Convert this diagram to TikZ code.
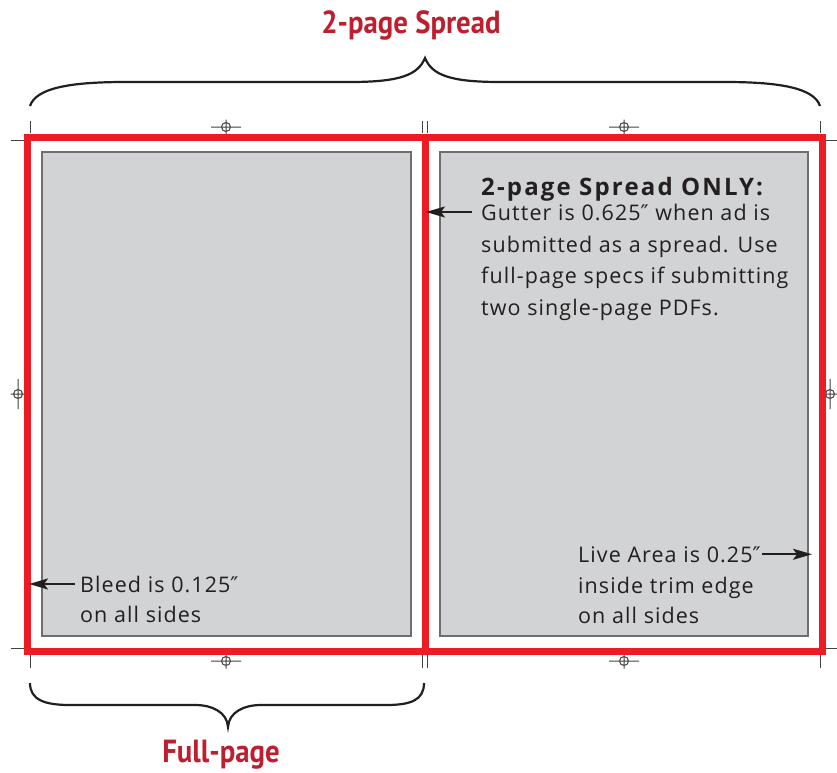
\documentclass[tikz,border=0pt]{standalone}
\usepackage{fontspec}
\setmainfont{Open Sans}[LetterSpace=5]
\newfontfamily\headfont{Open Sans}[LetterSpace=9]
\newfontfamily\titlefont{PT Sans}
\newfontfamily\symfont{DejaVu Sans}
\usetikzlibrary{arrows.meta}

\definecolor{bleedred}{HTML}{ED1C24}
\definecolor{titlered}{HTML}{BE1E2D}
\definecolor{pagegray}{HTML}{D1D3D4}
\definecolor{boxline}{HTML}{6D6E71}
\definecolor{ink}{HTML}{231F20}

\newcommand\inchmark{{\symfont\char"2033}}

\begin{document}
\begin{tikzpicture}[x=1pt,y=-1pt,>={Stealth[length=19pt,width=11pt,inset=4pt]},
  txt/.style={anchor=base west,inner sep=0pt,text=ink,font=\fontsize{21.5}{26}\selectfont},
  title/.style={anchor=base,inner sep=0pt,text=titlered,font=\titlefont\fontsize{32}{36}\selectfont\bfseries},
  crop/.style={line width=1pt,color=ink!85},
  brace/.style={line width=2.2pt,color=ink},
  arr/.style={->,line width=2pt,color=ink},
  regmark/.pic={\draw[crop] (-15,0)--(15,0) (0,-7.5)--(0,7.5) (0,0) circle[radius=4.5];}]

\useasboundingbox (0,0) rectangle (837,772);
\fill[white] (0,0) rectangle (837,772);

\fill[pagegray,draw=boxline,line width=1.2pt] (42,152) rectangle (411,636);
\fill[pagegray,draw=boxline,line width=1.2pt] (440,152) rectangle (808,636);

\foreach \x in {30,422.5,427.5,820} {\draw[crop] (\x,121)--(\x,133) (\x,654)--(\x,668);}
\foreach \y in {140,648} {\draw[crop] (11,\y)--(24,\y) (826,\y)--(837,\y);}

\foreach \x in {226,624} {\pic at (\x,127) {regmark}; \pic at (\x,661) {regmark};}
\pic[rotate=90] at (18,394) {regmark};
\pic[rotate=90] at (830,394) {regmark};

\draw[bleedred,line width=7pt] (27.5,137) rectangle (425,651);
\draw[bleedred,line width=7pt] (425,137) rectangle (822.5,651);

\draw[brace] (30,106) .. controls (36,88) and (70,82) .. (125,82) -- (350,82)
  .. controls (400,82) and (418,75) .. (425,58) .. controls (432,75) and (450,82) .. (500,82)
  -- (725,82) .. controls (780,82) and (814,88) .. (820,106);
\draw[brace] (30,683) .. controls (30,700) and (45,705) .. (70,705) -- (195,705)
  .. controls (212,705) and (227,712) .. (228,727) .. controls (229,712) and (244,705) .. (261,705)
  -- (386,705) .. controls (411,705) and (424,700) .. (424,683);

\node[title] (spread) at (411,33) {\scalebox{0.9}[1]{2-page Spread}};
\node[title] (fullpage) at (221,762) {\scalebox{0.9}[1]{Full-page}};

\node[txt,font=\headfont\fontsize{24}{28}\selectfont\bfseries] (only) at (481,195) {2-page Spread ONLY:};
\node[txt] (gutter) at (481,220) {Gutter is 0.625\inchmark{} when ad is};
\node[txt] (submitted) at (481,252) {submitted as a spread. Use};
\node[txt] (specs) at (481,283) {full-page specs if submitting};
\node[txt] (pdfs) at (481,315) {two single-page PDFs.};

\node[txt] (bleed) at (80,592) {Bleed is 0.125\inchmark};
\node[txt] (bleedsides) at (80,622) {on all sides};

\node[txt] (live) at (578,562) {Live Area is 0.25\inchmark};
\node[txt] (trim) at (578,593) {inside trim edge};
\node[txt] (livesides) at (578,623) {on all sides};

\coordinate (gutline) at (426,0);
\coordinate (bleedline) at (29,0);
\coordinate (liveline) at (812,0);

\draw[arr,shorten <=9pt] (gutter.west) -- (gutter.west -| gutline);
\draw[arr,shorten <=5pt] (bleed.west) -- (bleed.west -| bleedline);
\draw[arr,shorten <=1pt] (live.east) -- (live.east -| liveline);

\end{tikzpicture}
\end{document}
